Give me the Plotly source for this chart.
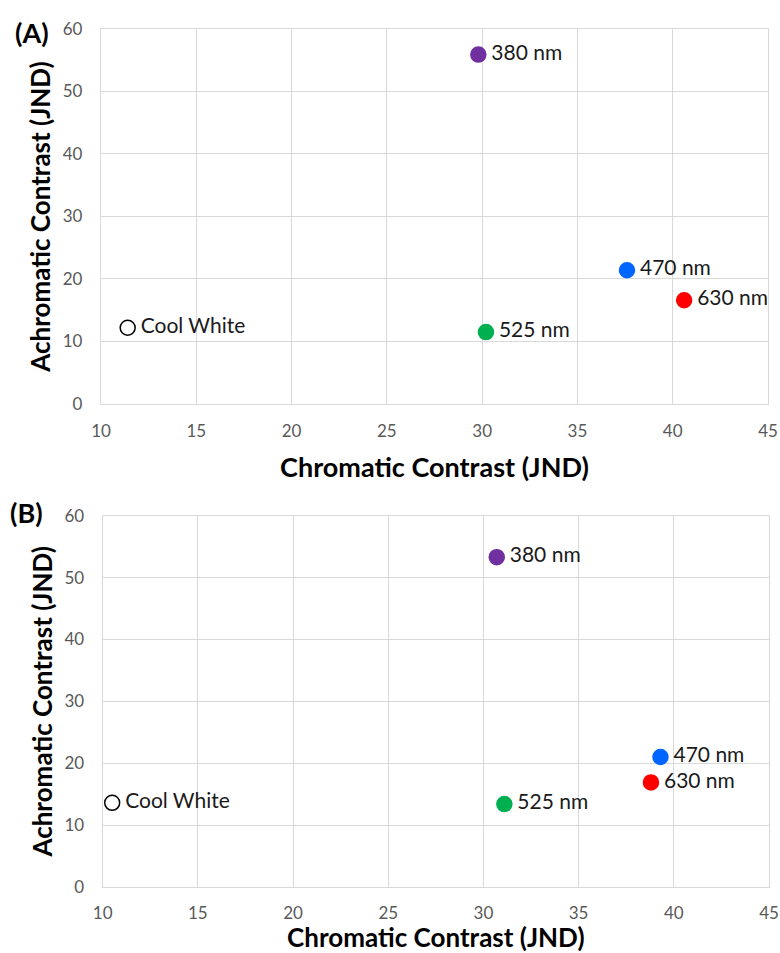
import plotly.graph_objects as go

# Dados (A) e (B)
labels = ['Cool White', '380 nm', '470 nm', '630 nm', '525 nm']

chrom_a = [11.4, 29.8, 37.6, 40.6, 30.2]
achrom_a = [12.2, 55.9, 21.4, 16.6, 11.5]

chrom_b = [10.5, 30.7, 39.3, 38.8, 31.1]
achrom_b = [13.6, 53.3, 21.0, 16.9, 13.4]

x_ticks = [10, 15, 20, 25, 30, 35, 40, 45]
y_ticks = [0, 10, 20, 30, 40, 50, 60]

# cores dos LEDs
cores = ['white', '#7030A0', '#0066FF', '#FF0000', '#00B050']
bordas = ['black', '#7030A0', '#0066FF', '#FF0000', '#00B050']

FONTE = 'Lato'
GRADE = '#d9d9d9'

fig = go.Figure()

for xs, ys, eixo in [(chrom_a, achrom_a, ('x', 'y')), (chrom_b, achrom_b, ('x2', 'y2'))]:
    fig.add_trace(go.Scatter(
        x=xs, y=ys, mode='markers+text',
        text=['\u2009' + t for t in labels], textposition='middle right',
        textfont=dict(family=FONTE, size=21, color='#1a1a1a'),
        marker=dict(size=15, color=cores, line=dict(color=bordas, width=1.5)),
        xaxis=eixo[0], yaxis=eixo[1], showlegend=False, cliponaxis=False,
    ))

eixo_x = dict(range=[10, 45], tickvals=x_ticks, showgrid=True, gridcolor=GRADE, gridwidth=1.3,
              showline=True, linecolor=GRADE, linewidth=1.3, mirror=True, zeroline=False,
              ticks='', ticklabelstandoff=12, automargin=False,
              tickfont=dict(family=FONTE, size=17, color='#595959'))
eixo_y = dict(range=[0, 60], tickvals=y_ticks, showgrid=True, gridcolor=GRADE, gridwidth=1.3,
              showline=True, linecolor=GRADE, linewidth=1.3, mirror=True, zeroline=False,
              ticks='', ticklabelstandoff=14, automargin=False,
              tickfont=dict(family=FONTE, size=17, color='#595959'),
              title=dict(text='Achromatic Contrast (JND)', standoff=4,
                         font=dict(family=FONTE, size=26, color='black', weight='bold')))

titulo_x = lambda s, tam: dict(text='Chromatic Contrast (JND)', standoff=s,
                               font=dict(family=FONTE, size=tam, color='black', weight='bold'))

fig.update_layout(
    width=780, height=953,
    margin=dict(l=101, r=11, t=29, b=66),
    plot_bgcolor='white', paper_bgcolor='white',
    xaxis=dict(eixo_x, domain=[0, 0.9985], anchor='y', title=titulo_x(17, 27)),
    yaxis=dict(eixo_y, domain=[0.563, 1], anchor='x'),
    xaxis2=dict(eixo_x, domain=[0.0025, 1], anchor='y2', ticklabelstandoff=10,
                title=titulo_x(14, 26)),
    yaxis2=dict(eixo_y, domain=[0, 0.4328], anchor='x2'),
    annotations=[
        dict(text='<b>(A)</b>', x=-0.1317, y=0.9965, xref='paper', yref='paper',
             xanchor='left', yanchor='middle', showarrow=False,
             font=dict(family=FONTE, size=27, color='black')),
        dict(text='<b>(B)</b>', x=-0.139, y=0.437, xref='paper', yref='paper',
             xanchor='left', yanchor='middle', showarrow=False,
             font=dict(family=FONTE, size=27, color='black')),
    ],
)

# tira a margem padrão do body para a figura caber na janela inteira
fig.write_html('out.html', config={'displayModeBar': False},
               post_script="document.body.style.margin='0';")
